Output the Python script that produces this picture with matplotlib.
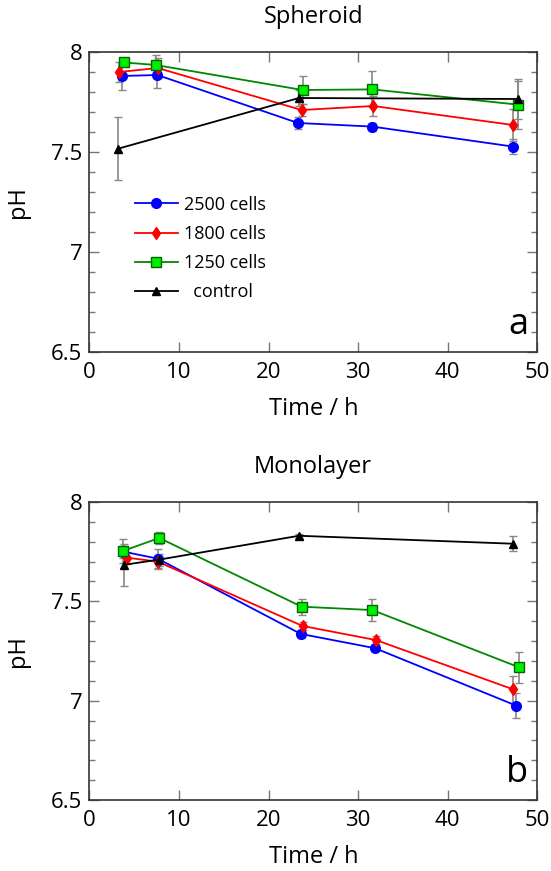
import matplotlib
matplotlib.use("Agg")
import matplotlib.pyplot as plt
from matplotlib.ticker import MultipleLocator

plt.rcParams['font.family'] = ['Open Sans', 'DejaVu Sans']

labels = ["2500 cells", "1800 cells", "1250 cells", "  control"]

# Spheroid (a)
sph_t_2500 = [3.6, 7.6, 23.3, 31.6, 47.3]
sph_ph_2500 = [7.88, 7.885, 7.645, 7.627, 7.527]
sph_err_2500 = [0.07, 0.065, 0.03, 0.02, 0.037]
sph_t_1800 = [3.35, 7.64, 23.7, 31.7, 47.3]
sph_ph_1800 = [7.90, 7.92, 7.71, 7.73, 7.635]
sph_err_1800 = [0.05, 0.05, 0.03, 0.05, 0.08]
sph_t_1250 = [3.85, 7.42, 23.8, 31.6, 47.8]
sph_ph_1250 = [7.948, 7.935, 7.81, 7.813, 7.737]
sph_err_1250 = [0.02, 0.05, 0.07, 0.09, 0.12]
sph_t_ctrl = [3.25, 23.4, 47.8]
sph_ph_ctrl = [7.517, 7.77, 7.765]
sph_err_ctrl = [0.157, 0.04, 0.1]

# Monolayer (b)
mono_t_2500 = [3.8, 7.63, 23.6, 31.9, 47.65]
mono_ph_2500 = [7.75, 7.715, 7.336, 7.264, 6.975]
mono_err_2500 = [0.03, 0.05, 0.02, 0.015, 0.063]
mono_t_1800 = [4.17, 7.63, 23.8, 32.0, 47.3]
mono_ph_1800 = [7.72, 7.70, 7.376, 7.305, 7.057]
mono_err_1800 = [0.03, 0.03, 0.02, 0.02, 0.067]
mono_t_1250 = [3.73, 7.81, 23.7, 31.6, 47.96]
mono_ph_1250 = [7.753, 7.819, 7.473, 7.456, 7.168]
mono_err_1250 = [0.06, 0.03, 0.04, 0.056, 0.078]
mono_t_ctrl = [3.9, 7.8, 23.4, 47.3]
mono_ph_ctrl = [7.684, 7.71, 7.83, 7.79]
mono_err_ctrl = [0.105, 0.03, 0.01, 0.037]

styles = [
    dict(color='#0000ff', marker='o', ms=7, mfc='#0000ff', mec='#0000ff'),
    dict(color='#ff0000', marker='d', ms=6, mfc='#ff0000', mec='#ff0000'),
    dict(color='#008800', marker='s', ms=7.5, mfc='#00ee00', mec='#006600'),
    dict(color='#000000', marker='^', ms=6, mfc='#000000', mec='#000000'),
]

fig = plt.figure(figsize=(5.51, 8.71), dpi=100)
W, H = 551, 871
ax1 = fig.add_axes([89.3 / W, (H - 352) / H, 448 / W, 300 / H])
ax2 = fig.add_axes([89.3 / W, (H - 800) / H, 448 / W, 298 / H])

def draw(ax, series, title, letter, legend):
    handles = []
    for (t, ph, err), st, lab in zip(series, styles, labels):
        ax.errorbar(t, ph, yerr=err, fmt='none', ecolor='#888888', elinewidth=1.2,
                    capsize=3, capthick=1.0, zorder=2)
        h, = ax.plot(t, ph, lw=1.3, label=lab, zorder=3, **st)
        handles.append(h)
    ax.set_xlim(0, 50)
    ax.set_ylim(6.5, 8)
    ax.xaxis.set_major_locator(MultipleLocator(10))
    ax.yaxis.set_minor_locator(MultipleLocator(0.1))
    ax.set_yticks([6.5, 7, 7.5, 8])
    ax.set_yticklabels(['6.5', '7', '7.5', '8'])
    ax.tick_params(which='both', direction='in', top=True, right=True,
                   color='#777777', labelsize=16)
    ax.tick_params(axis='x', pad=7)
    ax.tick_params(axis='y', pad=5)
    ax.tick_params(which='major', length=7, width=1)
    ax.tick_params(which='minor', length=4.5, width=1)
    for s in ax.spines.values():
        s.set_color('#333333')
        s.set_linewidth(1.2)
    ax.set_xlabel('Time / h', fontsize=17, labelpad=10)
    ax.set_ylabel('pH', fontsize=17, labelpad=15)
    ax.set_title(title, fontsize=17, pad=21)
    ax.text(0.98, 0.03, letter, transform=ax.transAxes, ha='right', va='bottom',
            fontsize=26)
    if legend:
        ax.legend(handles=handles, loc='upper left', bbox_to_anchor=(0.065, 0.575),
                  frameon=False, fontsize=13, handlelength=2.4, handletextpad=0.35,
                  labelspacing=0.62)

draw(ax1, [(sph_t_2500, sph_ph_2500, sph_err_2500),
           (sph_t_1800, sph_ph_1800, sph_err_1800),
           (sph_t_1250, sph_ph_1250, sph_err_1250),
           (sph_t_ctrl, sph_ph_ctrl, sph_err_ctrl)], 'Spheroid', 'a', True)
draw(ax2, [(mono_t_2500, mono_ph_2500, mono_err_2500),
           (mono_t_1800, mono_ph_1800, mono_err_1800),
           (mono_t_1250, mono_ph_1250, mono_err_1250),
           (mono_t_ctrl, mono_ph_ctrl, mono_err_ctrl)], 'Monolayer', 'b', False)

fig.savefig('out.png', dpi=100)
